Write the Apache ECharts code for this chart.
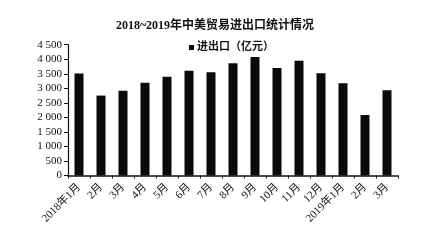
<!DOCTYPE html>
<html><head><meta charset="utf-8">
<script src="https://cdn.jsdelivr.net/npm/echarts@6/dist/echarts.min.js"></script>
<style>html,body{margin:0;padding:0;background:#fff}#c{width:430px;height:240px}</style>
</head><body><div id="c"></div>
<script>
var categories = ['2018年1月','2月','3月','4月','5月','6月','7月','8月','9月','10月','11月','12月','2019年1月','2月','3月'];
var values = [3510, 2750, 2920, 3190, 3400, 3600, 3550, 3860, 4080, 3700, 3950, 3520, 3170, 2080, 2930];
var seriesName = '进出口（亿元）';
var titleText = '2018~2019年中美贸易进出口统计情况';
var FONT = '"Liberation Serif", "Noto Sans CJK SC", serif';
var chart = echarts.init(document.getElementById('c'), null, {renderer:'canvas'});
chart.setOption({
  animation: false,
  title: {text: titleText, left: 'center', top: 15,
    textStyle: {fontFamily: FONT, fontSize: 12, fontWeight: 'bold', color: '#111'}},
  legend: {data: [seriesName], left: 184, top: 37, itemWidth: 5, itemHeight: 5, itemGap: 4,
    icon: 'rect', textStyle: {fontFamily: FONT, fontSize: 11, fontWeight: 'bold', color: '#111', padding:[0,0,0,-2]}},
  grid: {left: 68, right: 32, top: 44.7, bottom: 64.5, containLabel: false},
  xAxis: {type: 'category', data: categories,
    axisLine: {lineStyle: {color: '#111', width: 1.5}},
    axisTick: {show: true, length: 3, inside: false, lineStyle: {color: '#111'}},
    axisLabel: {rotate: 45, interval: 0, margin: 10, fontFamily: FONT, fontSize: 11, color: '#111'}},
  yAxis: {type: 'value', min: 0, max: 4500, interval: 500,
    axisLine: {show: true, lineStyle: {color: '#111', width: 1.2}},
    axisTick: {show: true, length: 4, lineStyle: {color: '#111'}},
    splitLine: {show: false},
    axisLabel: {margin: 6, fontFamily: FONT, fontSize: 11, color: '#111',
      formatter: function(v){ return String(v).replace(/\B(?=(\d{3})+(?!\d))/g, ' '); }}},
  series: [{name: seriesName, type: 'bar', data: values, barWidth: 9,
    itemStyle: {color: '#0a0a0a'}}]
});
</script></body></html>
